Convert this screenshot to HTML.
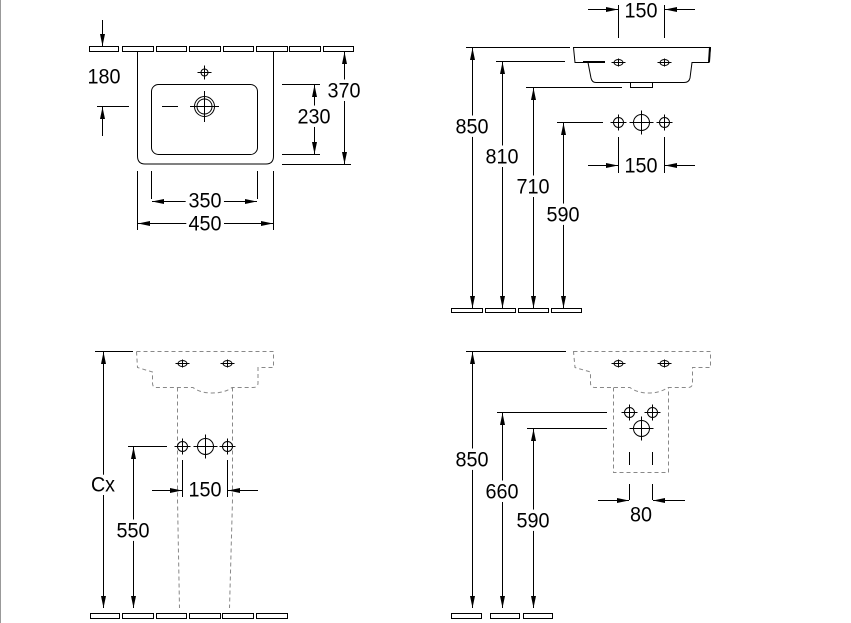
<!DOCTYPE html>
<html><head><meta charset="utf-8"><style>
html,body{margin:0;padding:0;background:#fff;width:851px;height:623px;overflow:hidden}
svg{display:block}
text{font-family:"Liberation Sans",sans-serif;font-size:21px;fill:#000;text-anchor:middle;dominant-baseline:central;paint-order:stroke;stroke:#fff;stroke-width:7px}
.l{stroke:#000;stroke-width:1;fill:none}
.d{stroke:#888;stroke-width:1;fill:none;stroke-dasharray:4 3}
.t{fill:#fff;stroke:#000;stroke-width:1}
</style></head><body>
<svg width="851" height="623" viewBox="0 0 851 623" xmlns="http://www.w3.org/2000/svg">
<defs>
<marker id="a" viewBox="0 0 12 5" markerWidth="12" markerHeight="5" refX="12" refY="2.5" orient="auto-start-reverse" markerUnits="userSpaceOnUse"><path d="M0,0 L12,2.5 L0,5z" fill="#000"/></marker>
<g id="sm"><circle r="5" class="l"/><path d="M-8,0H8M0,-8V8" class="l"/></g>
<g id="bg"><circle r="8" class="l"/><path d="M-12,0H12M0,-12V12" class="l"/></g>
<g id="el"><ellipse rx="4.5" ry="3" class="l"/><path class="l" d="M-7,0H7M0,-4V4"/></g>
</defs>
<line x1="0.5" y1="0" x2="0.5" y2="623" stroke="#999"/>

<!-- Q1 top view -->
<g>
<rect class="t" x="89.5" y="46.5" width="29" height="5"/><rect class="t" x="122.5" y="46.5" width="31" height="5"/><rect class="t" x="156.5" y="46.5" width="30" height="5"/><rect class="t" x="189.5" y="46.5" width="31" height="5"/><rect class="t" x="223.5" y="46.5" width="30" height="5"/><rect class="t" x="256.5" y="46.5" width="31" height="5"/><rect class="t" x="289.5" y="46.5" width="31" height="5"/><rect class="t" x="323.5" y="46.5" width="30" height="5"/>
<path class="l" d="M137.5,51.5V156 Q137.5,164 145,164H266 Q273.5,164 273.5,156V51.5"/>
<rect class="l" x="151.5" y="84.5" width="106" height="70" rx="7"/>
<g transform="translate(204.5,72.5)"><circle r="3.5" class="l"/><path d="M-7,0H7M0,-7V7" class="l"/></g>
<circle cx="204.5" cy="106.5" r="10" class="l"/><circle cx="204.5" cy="106.5" r="7.5" class="l"/><path class="l" d="M190,106.5H219M204.5,91V122"/>
<path class="l" d="M162,106.5H178M97,106.5H129"/>
<line class="l" x1="102.5" y1="20" x2="102.5" y2="46" marker-end="url(#a)"/>
<line class="l" x1="102.5" y1="136" x2="102.5" y2="107" marker-end="url(#a)"/>
<text x="104" y="77" textLength="33" lengthAdjust="spacingAndGlyphs">180</text>
<path class="l" d="M282,84.5H320M282,154.5H320M282,164.5H351"/>
<line class="l" x1="314.5" y1="85" x2="314.5" y2="154" marker-start="url(#a)" marker-end="url(#a)"/>
<text x="314" y="117" textLength="33" lengthAdjust="spacingAndGlyphs">230</text>
<line class="l" x1="344.5" y1="52" x2="344.5" y2="164" marker-start="url(#a)" marker-end="url(#a)"/>
<text x="344" y="91" textLength="33" lengthAdjust="spacingAndGlyphs">370</text>
<path class="l" d="M151.5,171V199M257.5,171V199M137.5,171V230M273.5,171V230"/>
<line class="l" x1="152" y1="201.5" x2="257" y2="201.5" marker-start="url(#a)" marker-end="url(#a)"/>
<text x="205" y="201" textLength="33" lengthAdjust="spacingAndGlyphs">350</text>
<line class="l" x1="138" y1="223.5" x2="273" y2="223.5" marker-start="url(#a)" marker-end="url(#a)"/>
<text x="205" y="224" textLength="33" lengthAdjust="spacingAndGlyphs">450</text>
</g>

<!-- Q2 side view -->
<g>
<path class="l" d="M618.5,5V38M664.5,5V38"/>
<line class="l" x1="588" y1="9.5" x2="618" y2="9.5" marker-end="url(#a)"/>
<line class="l" x1="695" y1="9.5" x2="665" y2="9.5" marker-end="url(#a)"/>
<text x="641" y="11" textLength="33" lengthAdjust="spacingAndGlyphs">150</text>
<path class="l" d="M573.5,47.5H710.5L709,62.5H692L690,78 Q689,82.5 684,82.5H596 Q592,82.5 591,78L588,62.5H575Z"/>
<line x1="710" y1="47" x2="709" y2="62" stroke="#000" stroke-width="2"/>
<line x1="583" y1="62" x2="605" y2="62" stroke="#000" stroke-width="2"/>
<rect class="l" x="630.5" y="82.5" width="22" height="5"/>
<use href="#el" x="618.5" y="62.5"/><use href="#el" x="664.5" y="62.5"/>
<path class="l" d="M466,47.5H570M496,61.5H565M526,87.5H622M557,122.5H603"/>
<line class="l" x1="472.5" y1="48" x2="472.5" y2="308" marker-start="url(#a)" marker-end="url(#a)"/>
<text x="472" y="127" textLength="33" lengthAdjust="spacingAndGlyphs">850</text>
<line class="l" x1="502.5" y1="62" x2="502.5" y2="308" marker-start="url(#a)" marker-end="url(#a)"/>
<text x="502" y="157" textLength="33" lengthAdjust="spacingAndGlyphs">810</text>
<line class="l" x1="533.5" y1="88" x2="533.5" y2="308" marker-start="url(#a)" marker-end="url(#a)"/>
<text x="533" y="187" textLength="33" lengthAdjust="spacingAndGlyphs">710</text>
<line class="l" x1="563.5" y1="123" x2="563.5" y2="308" marker-start="url(#a)" marker-end="url(#a)"/>
<text x="563" y="215" textLength="33" lengthAdjust="spacingAndGlyphs">590</text>
<use href="#sm" x="618.5" y="122.5"/><use href="#sm" x="664.5" y="122.5"/><use href="#bg" x="641.5" y="122.5"/>
<path class="l" d="M618.5,137V173M664.5,137V173"/>
<line class="l" x1="588" y1="165.5" x2="618" y2="165.5" marker-end="url(#a)"/>
<line class="l" x1="695" y1="165.5" x2="665" y2="165.5" marker-end="url(#a)"/>
<text x="641" y="166" textLength="33" lengthAdjust="spacingAndGlyphs">150</text>
<rect class="t" x="451.5" y="308.5" width="31" height="4"/><rect class="t" x="485.5" y="308.5" width="30" height="4"/><rect class="t" x="518.5" y="308.5" width="30" height="4"/><rect class="t" x="551.5" y="308.5" width="30" height="4"/>
</g>

<!-- Q3 pedestal -->
<g>
<path class="l" d="M95,351.5H133"/>
<line class="l" x1="103.5" y1="352" x2="103.5" y2="608" marker-start="url(#a)" marker-end="url(#a)"/>
<text x="103" y="485" textLength="24" lengthAdjust="spacingAndGlyphs">Cx</text>
<path class="d" d="M136.5,351.5H273.5V367.5H258V383 Q258,387.5 253,387.5H232 Q225,393 212,393 Q200,393 193,387.5H156 Q152.5,387.5 152.5,383V372L137.5,367.5Z"/>
<path class="d" d="M177.5,387.5V500L179.5,608M232.5,387.5V500L229.5,608"/>
<use href="#el" x="182.5" y="363.5"/><use href="#el" x="227.5" y="363.5"/>
<use href="#sm" x="182.5" y="446.5"/><use href="#sm" x="227.5" y="446.5"/><use href="#bg" x="205.5" y="446.5"/>
<path class="l" d="M128,446.5H167"/>
<line class="l" x1="133.5" y1="447" x2="133.5" y2="608" marker-start="url(#a)" marker-end="url(#a)"/>
<text x="133" y="531" textLength="33" lengthAdjust="spacingAndGlyphs">550</text>
<path class="l" d="M182.5,460V497M227.5,460V497"/>
<line class="l" x1="152" y1="490.5" x2="182" y2="490.5" marker-end="url(#a)"/>
<line class="l" x1="258" y1="490.5" x2="228" y2="490.5" marker-end="url(#a)"/>
<text x="205" y="490" textLength="33" lengthAdjust="spacingAndGlyphs">150</text>
<rect class="t" x="90.5" y="613.5" width="29" height="5"/><rect class="t" x="122.5" y="613.5" width="31" height="5"/><rect class="t" x="156.5" y="613.5" width="30" height="5"/><rect class="t" x="189.5" y="613.5" width="31" height="5"/><rect class="t" x="222.5" y="613.5" width="31" height="5"/><rect class="t" x="256.5" y="613.5" width="31" height="5"/>
</g>

<!-- Q4 half pedestal -->
<g>
<path class="l" d="M466,351.5H566M497,412.5H607M527,428.5H607"/>
<line class="l" x1="472.5" y1="352" x2="472.5" y2="608" marker-start="url(#a)" marker-end="url(#a)"/>
<text x="472" y="460" textLength="33" lengthAdjust="spacingAndGlyphs">850</text>
<line class="l" x1="502.5" y1="413" x2="502.5" y2="608" marker-start="url(#a)" marker-end="url(#a)"/>
<text x="502" y="492" textLength="33" lengthAdjust="spacingAndGlyphs">660</text>
<line class="l" x1="533.5" y1="429" x2="533.5" y2="608" marker-start="url(#a)" marker-end="url(#a)"/>
<text x="533" y="521" textLength="33" lengthAdjust="spacingAndGlyphs">590</text>
<path class="d" d="M573.5,351.5H710.5V367.5H692.5V383 Q692.5,387.5 688,387.5H668 Q660,393 649,393 Q637,393 630,387.5H595 Q590.5,387.5 590.5,383V372L575,367.5Z"/>
<path class="d" d="M613.5,387.5V472.5H668.5V387.5"/>
<use href="#el" x="618.5" y="363.5"/><use href="#el" x="664.5" y="363.5"/>
<use href="#sm" x="629.5" y="412.5"/><use href="#sm" x="652.5" y="412.5"/><use href="#bg" x="641.5" y="428.5"/>
<path class="l" d="M629.5,452V465M652.5,452V465M629.5,484V500M652.5,484V500"/>
<line class="l" x1="598" y1="500.5" x2="629" y2="500.5" marker-end="url(#a)"/>
<line class="l" x1="685" y1="500.5" x2="653" y2="500.5" marker-end="url(#a)"/>
<text x="641" y="515" textLength="22" lengthAdjust="spacingAndGlyphs">80</text>
<rect class="t" x="451.5" y="613.5" width="30" height="5"/><rect class="t" x="490.5" y="613.5" width="29" height="5"/><rect class="t" x="523.5" y="613.5" width="29" height="5"/>
</g>
</svg>
</body></html>
